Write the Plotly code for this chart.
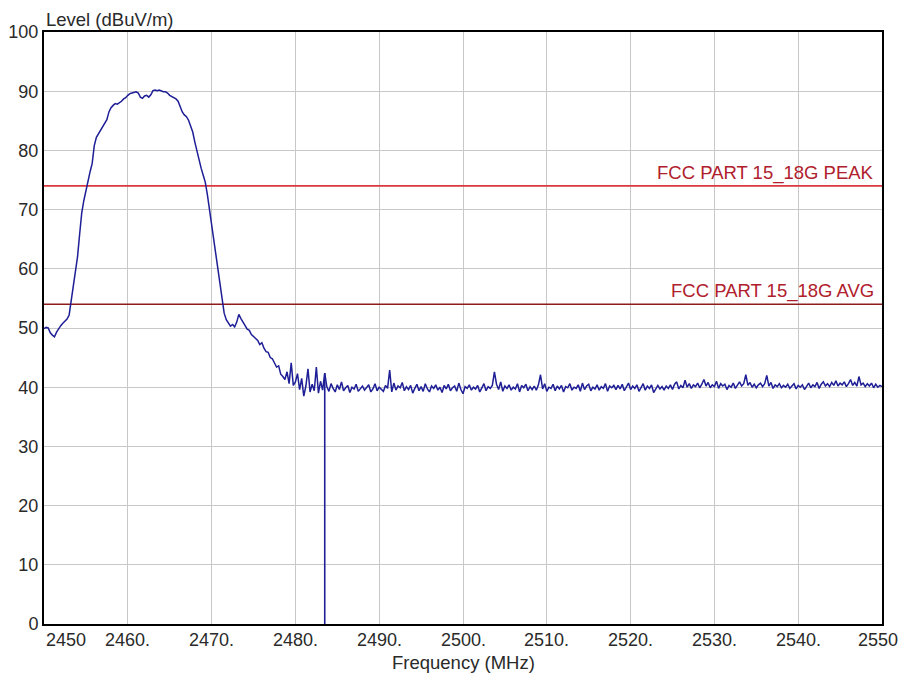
import plotly.graph_objects as go

# ---------------- data ----------------
FREQ_START_MHZ = 2450.0
FREQ_STEP_MHZ = 0.25

# measured level (dBuV/m), 0.25 MHz steps starting at 2450 MHz
level_main = [
    49.9, 50.1, 50.0, 49.2, 48.8, 48.5, 49.3, 49.9, 50.4, 50.8,
    51.2, 51.5, 52.2, 54.5, 57.0, 59.5, 62.0, 65.8, 69.4, 71.5,
    73.3, 74.8, 76.4, 77.8, 80.8, 82.2, 82.8, 83.3, 83.8, 84.5,
    85.2, 86.5, 87.2, 87.6, 87.9, 87.8, 88.0, 88.3, 88.7, 88.9,
    89.3, 89.6, 89.7, 89.8, 89.9, 89.7, 89.0, 88.8, 89.2, 89.3,
    89.0, 89.4, 90.1, 90.2, 90.1, 90.2, 90.0, 89.9, 89.9, 89.7,
    89.3, 89.1, 89.0, 88.7, 88.3, 87.4, 86.5, 86.0, 85.7, 85.1,
    84.2, 83.1, 81.4, 79.8, 78.5, 77.0, 75.8, 74.6, 72.5, 70.0,
    67.5, 64.8, 62.6, 60.2, 58.0, 55.0, 52.5, 51.4, 50.8, 50.3,
    50.6, 50.2, 51.0, 52.3, 51.6, 50.9, 50.4, 49.8, 49.6, 48.9,
    48.6, 48.2, 47.9, 47.2, 47.5, 46.6, 46.0, 45.9, 45.0, 44.8,
    44.0, 43.4, 43.6, 42.2, 41.8, 41.3, 42.6, 40.6, 44.1, 40.3,
    40.9, 42.3, 39.6, 41.5, 38.5, 40.2, 43.1, 39.2, 40.5, 39.4,
    43.4, 39.0, 41.0, 39.5,
]
level_floor = [
    42.4, 40.1, 39.3, 40.6, 39.8, 39.2, 40.4, 39.6, 40.9, 39.4, 39.9, 40.3, 39.1, 40.0, 39.7, 40.5, 39.3, 39.8, 40.2, 39.5,
    39.9, 40.4, 39.2, 39.7, 40.6, 39.4, 40.0, 39.6, 39.3, 40.3, 39.8, 42.9, 39.2, 40.7, 39.5, 40.2, 39.9, 40.8, 39.4, 40.1,
    39.6, 40.3, 39.0, 39.8, 40.5, 39.4, 40.1, 39.3, 40.6, 39.7, 39.2, 40.2, 39.8, 40.4, 39.5, 40.0, 39.1, 40.3, 39.7, 40.5,
    39.4, 39.9, 40.2, 39.3, 40.7, 39.6, 38.9, 40.1, 39.8, 40.4, 39.5, 40.0, 39.7, 40.3, 39.2, 39.9, 40.6, 39.4, 40.1, 39.8,
    40.3, 42.6, 40.5, 39.6, 40.9, 39.3, 40.2, 39.8, 40.4, 39.5, 40.0, 39.7, 40.6, 39.2, 40.3, 39.9, 40.5, 39.4, 40.1, 39.6,
    40.2, 39.5, 40.4, 42.1, 39.7, 40.6, 39.3, 40.0, 39.8, 40.5, 39.4, 40.2, 39.7, 40.3, 39.2, 40.1, 39.9, 40.6, 39.5, 40.0,
    39.8, 40.4, 39.3, 40.7, 39.6, 40.2, 40.5, 39.4, 40.0, 39.7, 40.4, 39.5, 40.1, 39.8, 40.6, 39.3, 40.2, 39.9, 40.3, 39.6,
    40.3, 39.7, 40.5, 39.4, 40.1, 40.7, 39.6, 40.2, 39.8, 40.4, 39.3, 40.0, 40.6, 39.5, 40.2, 39.8, 40.4, 39.1, 39.8, 40.3,
    39.7, 40.1, 39.5, 40.2, 39.8, 40.4, 39.6, 40.5, 40.9, 39.7, 40.3, 39.9, 41.2, 40.0, 40.6, 39.8, 40.4, 40.1, 40.7, 39.9,
    40.5, 41.3, 40.2, 40.8, 39.9, 40.4, 40.1, 41.0, 39.8, 40.6, 40.2, 40.5, 39.6, 40.3, 40.0, 40.7, 39.8, 40.4, 40.9, 40.2,
    40.6, 42.1, 40.3, 40.8, 40.0, 40.5, 39.9, 40.4, 40.7, 40.1, 40.6, 42.0, 40.2, 40.8, 39.8, 40.4, 40.1, 40.6, 39.9, 40.3,
    40.0, 40.5, 39.8, 40.2, 40.6, 39.7, 40.3, 40.0, 40.4, 39.6, 40.2, 40.7, 39.9, 40.4, 40.1, 40.8, 39.8, 40.5, 40.9, 40.2,
    40.6, 40.1, 40.8, 40.3, 41.1, 40.2, 40.7, 40.4, 40.9, 40.1, 40.6, 41.3, 40.3, 40.8, 40.2, 41.8, 40.4, 40.7, 40.1, 40.6,
    40.2, 40.7, 39.9, 40.5, 40.0, 40.3, 40.1,
]
level_dbuv = level_main + level_floor
freq_mhz = [FREQ_START_MHZ + i * FREQ_STEP_MHZ for i in range(len(level_dbuv))]

# band-edge marker
marker_freq_mhz = [2483.5, 2483.5]
marker_level = [0.0, 42.4]

# limit lines
limit_names = ["FCC PART 15_18G PEAK", "FCC PART 15_18G AVG"]
limit_levels = [74, 54]
limit_colors = ["#d9383c", "#8e1c1c"]
limit_range = [2450, 2550]

# axes
x_ticks = [2450, 2460, 2470, 2480, 2490, 2500, 2510, 2520, 2530, 2540, 2550]
x_tick_labels = ["2450", "2460.", "2470.", "2480.", "2490.", "2500.",
                 "2510.", "2520.", "2530.", "2540.", "2550"]
y_ticks = [0, 10, 20, 30, 40, 50, 60, 70, 80, 90, 100]

TRACE_COLOR = "#1e1e96"
FONT = "Liberation Sans, Arial, sans-serif"
TXT = "#2a2a2a"

fig = go.Figure()

for name, lv, col in zip(limit_names, limit_levels, limit_colors):
    fig.add_trace(go.Scatter(x=limit_range, y=[lv, lv], mode="lines",
                             line=dict(color=col, width=1.6), hoverinfo="skip",
                             showlegend=False))
    fig.add_annotation(x=limit_range[1], y=lv, xref="x", yref="y",
                       text=name, showarrow=False, xanchor="right", yanchor="bottom",
                       xshift=-6, yshift=0,
                       font=dict(family=FONT, size=18.5, color="#b0202c"))

fig.add_trace(go.Scatter(x=freq_mhz, y=level_dbuv, mode="lines",
                         line=dict(color=TRACE_COLOR, width=1.5),
                         showlegend=False))
fig.add_trace(go.Scatter(x=marker_freq_mhz, y=marker_level, mode="lines",
                         line=dict(color=TRACE_COLOR, width=1.6),
                         showlegend=False))

# x tick labels as annotations (first one left aligned as in reference)
for v, t in zip(x_ticks, x_tick_labels):
    if v == x_ticks[0]:
        anchor, shift = "left", 0
    elif v == x_ticks[-1]:
        anchor, shift = "center", -4
    else:
        anchor, shift = "center", 0
    fig.add_annotation(x=v, y=0, xref="x", yref="paper", text=t, showarrow=False,
                       xanchor=anchor, yanchor="top", xshift=shift, yshift=-4,
                       font=dict(family=FONT, size=18, color=TXT))

fig.add_annotation(x=0.5, y=0, xref="paper", yref="paper", text="Frequency (MHz)",
                   showarrow=False, xanchor="center", yanchor="top", yshift=-26,
                   font=dict(family=FONT, size=18.5, color=TXT))
fig.add_annotation(x=0, y=1, xref="paper", yref="paper", text="Level (dBuV/m)",
                   showarrow=False, xanchor="left", yanchor="bottom", yshift=0,
                   font=dict(family=FONT, size=18.5, color=TXT))

fig.update_layout(
    width=900, height=677,
    margin=dict(l=44, r=18, t=32, b=53),
    paper_bgcolor="white", plot_bgcolor="white",
    showlegend=False,
    xaxis=dict(range=[2450, 2550], tickvals=x_ticks, showticklabels=False,
               showgrid=True, gridcolor="#c8c8c8", gridwidth=1.2,
               showline=True, linecolor="black", linewidth=2, mirror=True,
               zeroline=False, ticks=""),
    yaxis=dict(range=[0, 100], tickvals=y_ticks,
               showgrid=True, gridcolor="#c8c8c8", gridwidth=1.2,
               showline=True, linecolor="black", linewidth=2, mirror=True,
               zeroline=False, ticks="", automargin=False,
               tickfont=dict(family=FONT, size=18, color=TXT)),
)

# remove the default 8 px page margin so the 900x677 figure fills the window
fig.write_html("out.html", config={"displayModeBar": False},
               post_script="document.body.style.margin='0px';")
